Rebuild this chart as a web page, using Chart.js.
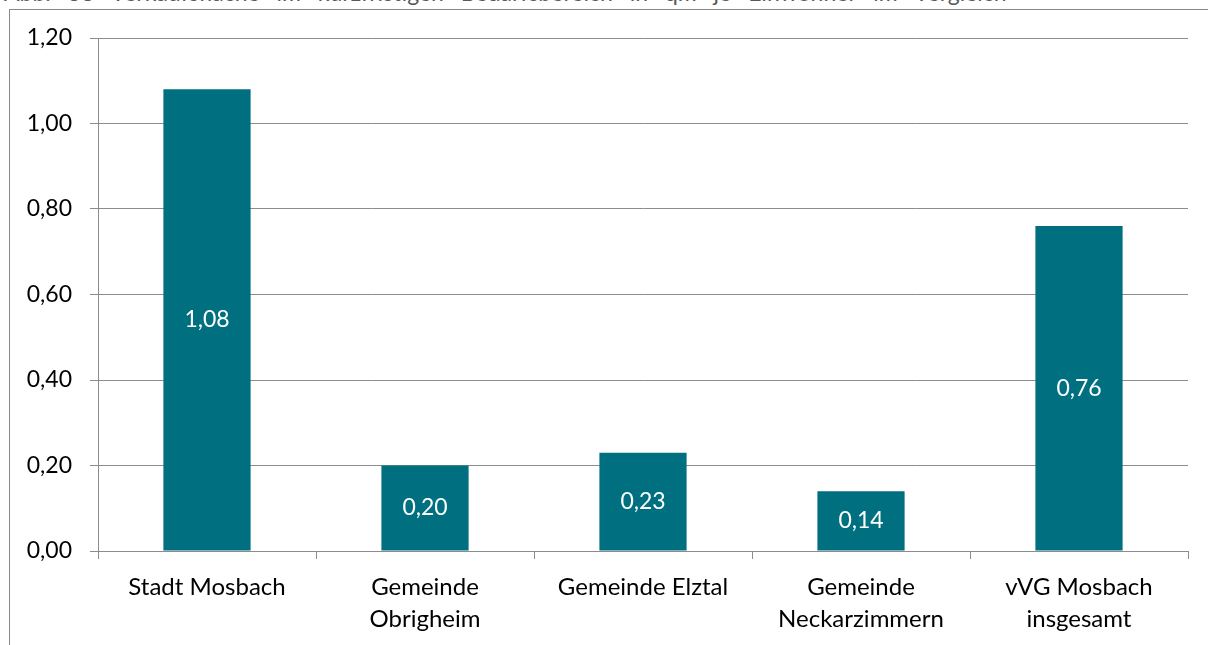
<!DOCTYPE html>
<html>
<head>
<meta charset="utf-8">
<script src="https://cdn.jsdelivr.net/npm/chart.js@4.4.1/dist/chart.umd.min.js"></script>
<style>
  html, body { margin: 0; padding: 0; background: #fff; }
  #wrap { position: relative; width: 1208px; height: 645px; overflow: hidden; }
  #title { position: absolute; left: 4px; top: -19px; font-family: Lato, "Open Sans", sans-serif; font-size: 23px; line-height: 23px; color: #595959; white-space: nowrap; word-spacing: 11px; }
  #frame { position: absolute; left: 9px; top: 9px; width: 1210px; height: 700px; border: 1px solid #8a8a8a; box-sizing: border-box; }
  #chart { position: absolute; left: 0; top: 0; }
</style>
</head>
<body>
<div id="wrap">
  <div id="title">Abb. 38 Verkaufsfläche im kurzfristigen Bedarfsbereich in qm je Einwohner im Vergleich</div>
  <div id="frame"></div>
  <canvas id="chart" width="1208" height="645"></canvas>
</div>
<script>
var categories = [
    "Stadt Mosbach",
    ["Gemeinde", "Obrigheim"],
    "Gemeinde Elztal",
    ["Gemeinde", "Neckarzimmern"],
    ["vVG Mosbach", "insgesamt"]
]
var values = [1.08, 0.20, 0.23, 0.14, 0.76]
var yTicks = [0, 0.2, 0.4, 0.6, 0.8, 1.0, 1.2]

var barColor = "#007080"
var lineColor = "#8c8c8c"
var fontFamily = "Lato, 'Open Sans', sans-serif"

function fmt(v) {
    return v.toFixed(2).replace(".", ",")
}

// value labels in the middle of each bar, like excel "center"
var centerLabels = {
    id: "centerLabels",
    afterDatasetsDraw(chart) {
        var ctx = chart.ctx
        var meta = chart.getDatasetMeta(0)
        ctx.save()
        ctx.fillStyle = "#ffffff"
        ctx.font = "23px " + fontFamily
        ctx.textAlign = "center"
        ctx.textBaseline = "middle"
        meta.data.forEach((bar, i) => {
            var mid = (bar.y + bar.base) / 2
            ctx.fillText(fmt(values[i]), bar.x, mid)
        })
        ctx.restore()
    }
}

Chart.defaults.font.family = fontFamily
Chart.defaults.font.size = 23
Chart.defaults.color = "#000000"

var ctx = document.getElementById("chart").getContext("2d")
var graph = new Chart(ctx, {
    type: "bar",
    data: {
        labels: categories,
        datasets: [{
            data: values,
            backgroundColor: barColor,
            borderWidth: 0,
            categoryPercentage: 1,
            barPercentage: 0.4
        }]
    },
    options: {
        responsive: false,
        animation: false,
        layout: {
            padding: { left: 0, right: 20, top: 38, bottom: 0 }
        },
        plugins: {
            legend: { display: false },
            tooltip: { enabled: false }
        },
        scales: {
            y: {
                min: 0,
                max: 1.2,
                afterBuildTicks: (scale) => {
                    scale.ticks = yTicks.map(v => ({ value: v }))
                },
                afterFit: (scale) => {
                    scale.width = 98
                },
                ticks: {
                    padding: 18,
                    callback: (v) => fmt(v)
                },
                grid: {
                    color: lineColor,
                    tickLength: 8,
                    lineWidth: 1
                },
                border: { color: lineColor, width: 1 }
            },
            x: {
                afterFit: (scale) => {
                    scale.height = 94
                },
                ticks: {
                    padding: 13,
                    maxRotation: 0,
                    autoSkip: false,
                    font: { size: 24, lineHeight: 1.3 }
                },
                grid: {
                    offset: true,
                    drawOnChartArea: false,
                    color: lineColor,
                    tickLength: 8
                },
                border: { color: lineColor, width: 1 }
            }
        }
    },
    plugins: [centerLabels]
})
</script>
</body>
</html>
